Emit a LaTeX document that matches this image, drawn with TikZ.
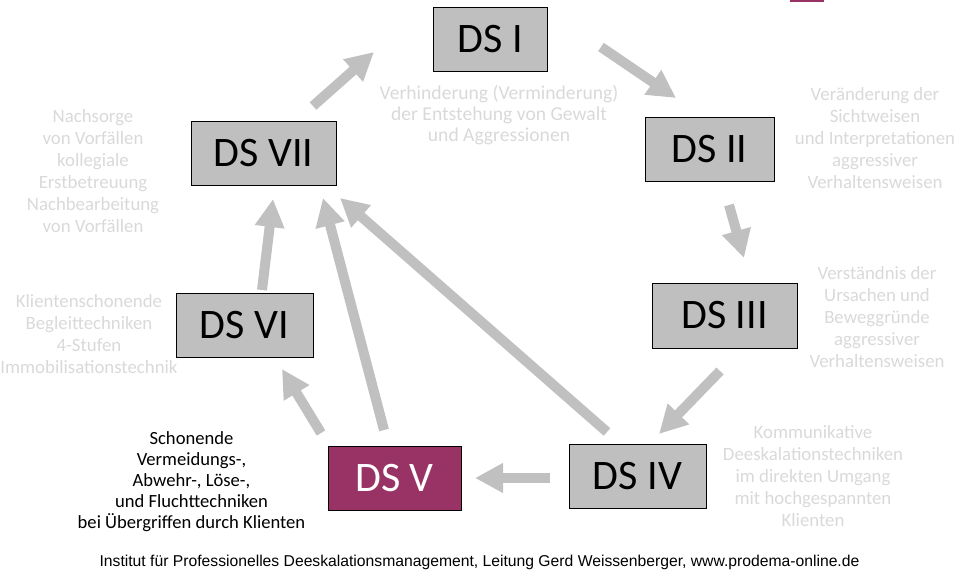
\documentclass[tikz,border=0pt]{standalone}
\usepackage{fontspec}
\setmainfont{Carlito}
\newfontfamily\footfont{Liberation Sans}
\usetikzlibrary{arrows.meta}

\definecolor{boxgray}{RGB}{191,191,191}
\definecolor{arrowgray}{RGB}{192,192,192}
\definecolor{descgray}{RGB}{217,217,217}
\definecolor{dspurple}{RGB}{153,51,102}

\tikzset{
  dsbox/.style={draw=black, line width=1pt, fill=boxgray, inner sep=0pt,
    font=\fontsize{42}{50}\selectfont, text=black},
  dsmark/.style={dsbox, fill=dspurple, text=white},
  desc/.style={align=center, inner sep=0pt, text=descgray,
    font=\fontsize{18.8}{22}\selectfont},
  desctight/.style={desc, font=\fontsize{18.6}{21}\selectfont},
  blockarrow/.style={draw=arrowgray, line width=10pt,
    -{Triangle[width=28pt,length=28pt]}},
}

\begin{document}
\begin{tikzpicture}[x=1pt, y=-1pt]
  \useasboundingbox (0,0) rectangle (957,576);

  % small accent bar at the top edge
  \fill[dspurple] (790,0) rectangle (824,1.5);

  % the seven stages
  \node[dsbox, minimum width=114pt, minimum height=64pt] (i)   at (490,39)    {DS I};
  \node[dsbox, minimum width=129pt, minimum height=64pt] (ii)  at (709.5,149) {DS II};
  \node[dsbox, minimum width=145pt, minimum height=65pt] (iii) at (724.5,315.5) {DS III};
  \node[dsbox, minimum width=137pt, minimum height=64pt] (iv)  at (637.5,476) {DS IV};
  \node[dsmark, minimum width=133pt, minimum height=64pt] (v)  at (394.5,478) {DS V};
  \node[dsbox, minimum width=137pt, minimum height=64pt] (vi)  at (244.5,325) {DS VI};
  \node[dsbox, minimum width=145pt, minimum height=64pt] (vii) at (263.5,153) {DS VII};

  % stage descriptions
  \node[desctight, font=\fontsize{19.6}{21}\selectfont] (di) at (499,115)
    {Verhinderung (Verminderung)\\der Entstehung von Gewalt\\und Aggressionen};
  \node[desc] (dii) at (875,138)
    {Veränderung der\\Sichtweisen\\und Interpretationen\\aggressiver\\Verhaltensweisen};
  \node[desc] (diii) at (877,317)
    {Verständnis der\\Ursachen und\\Beweggründe\\aggressiver\\Verhaltensweisen};
  \node[desc] (div) at (813,476)
    {Kommunikative\\Deeskalationstechniken\\im direkten Umgang\\mit hochgespannten\\Klienten};
  \node[desctight, text=black] (dv) at (191.5,482)
    {Schonende\\Vermeidungs-,\\Abwehr-, Löse-,\\und Fluchttechniken\\bei Übergriffen durch Klienten};
  \node[desc] (dvi) at (89,334.5)
    {Klientenschonende\\Begleittechniken\\4-Stufen\\Immobilisationstechnik};
  \node[desc] (dvii) at (93,171)
    {Nachsorge\\von Vorfällen\\kollegiale\\Erstbetreuung\\Nachbearbeitung\\von Vorfällen};

  % arrow end points
  \coordinate (a1s) at (313,106);  \coordinate (a1e) at (374,52);
  \coordinate (a2s) at (601,47);   \coordinate (a2e) at (676,98);
  \coordinate (a3s) at (729,205);  \coordinate (a3e) at (744,258);
  \coordinate (a4s) at (720,371);  \coordinate (a4e) at (659,434);
  \coordinate (a5s) at (550,478);  \coordinate (a5e) at (475,478);
  \coordinate (a6s) at (607,432);  \coordinate (a6e) at (340,198);
  \coordinate (a7s) at (384,430);  \coordinate (a7e) at (323,198);
  \coordinate (a8s) at (321,433);  \coordinate (a8e) at (282,369);
  \coordinate (a9s) at (262,290);  \coordinate (a9e) at (273,199);

  % connectors between the stages
  \draw[blockarrow] (a1s) -- (a1e);
  \draw[blockarrow] (a2s) -- (a2e);
  \draw[blockarrow] (a3s) -- (a3e);
  \draw[blockarrow] (a4s) -- (a4e);
  \draw[blockarrow] (a5s) -- (a5e);
  \draw[blockarrow] (a6s) -- (a6e);
  \draw[blockarrow] (a7s) -- (a7e);
  \draw[blockarrow] (a8s) -- (a8e);
  \draw[blockarrow] (a9s) -- (a9e);

  % footer line
  \node[inner sep=0pt, font=\footfont\fontsize{15.7}{18}\selectfont] (foot) at (479.5,562)
    {Institut für Professionelles Deeskalationsmanagement, Leitung Gerd Weissenberger, www.prodema-online.de};
\end{tikzpicture}
\end{document}
